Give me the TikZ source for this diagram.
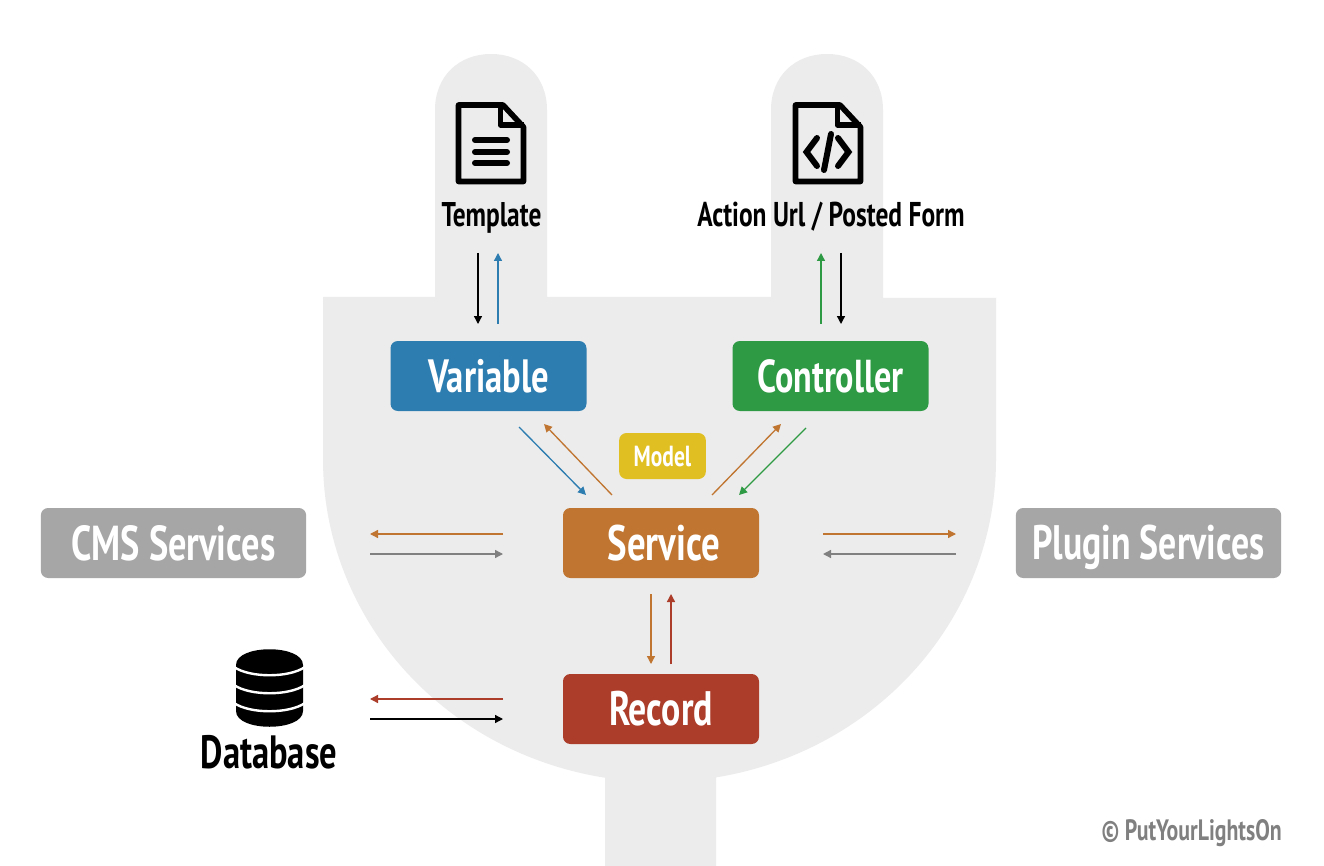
\documentclass[tikz,border=0pt]{standalone}
\usepackage{fontspec}
\setmainfont[FakeStretch=0.74]{PT Sans Bold}
\usetikzlibrary{arrows.meta}
\definecolor{plug}{HTML}{ECECEC}
\definecolor{cblue}{HTML}{2E7DB0}
\definecolor{cgreen}{HTML}{2E9A44}
\definecolor{corange}{HTML}{C07530}
\definecolor{cred}{HTML}{AC3D2A}
\definecolor{cyellow}{HTML}{DFBF22}
\definecolor{cgray}{HTML}{A6A6A6}
\definecolor{cline}{HTML}{808080}
\definecolor{cmark}{HTML}{808080}
\tikzset{
  x=0.75pt,y=-0.75pt,
  fs/.style={font=\fontsize{#1}{#1}\selectfont,text height={0.7*#1pt},text depth=0pt},
  box/.style={rounded corners=5.5pt,inner sep=0pt,minimum height=52.5pt,minimum width=147pt,text=white,fs=35},
  label/.style={inner sep=0pt,text=black},
  flow/.style={line width=1pt,-{Triangle[length=6pt,width=6pt]}},
  docicon/.style={line width=4.2pt,line join=round,draw=black},
  docbar/.style={line width=4.5pt,line cap=round,draw=black},
}
\begin{document}
\begin{tikzpicture}
\useasboundingbox (0,0) rectangle (1324,866);
\fill[white] (0,0) rectangle (1324,866);
% plug
\fill[plug] (605,866) -- plot[domain=99.3:180,samples=60] ({659.5+336.5*cos(\x)},{460+322*sin(\x)})
  -- (323,297) -- (435,297) -- (435,110) .. controls (435,76) and (459,54) .. (491,54)
  .. controls (523,54) and (547,76) .. (547,110) -- (547,297) -- (771,297) -- (771,110)
  .. controls (771,76) and (795,54) .. (827,54) .. controls (859,54) and (883,76) .. (883,110)
  -- (883,298) -- (996,298) -- plot[domain=0:80.3,samples=60] ({659.5+336.5*cos(\x)},{460+322*sin(\x)})
  -- (716,866) -- cycle;
% boxes
\node[box,fill=cblue] (var) at (488.5,376) {Variable};
\node[box,fill=cgreen,fs=34.6] (ctl) at (830.5,376) {Controller};
\node[box,fill=corange,fs=37.3] (svc) at (661,543) {\hspace*{4.5pt}Service};
\node[box,fill=cred,fs=36.3] (rec) at (661,709) {Record};
\node[box,fill=cyellow,minimum width=65pt,minimum height=34.5pt,fs=21.8] (mdl) at (662.5,456) {Model};
\node[box,fill=cgray,minimum width=199pt,fs=36.8] (cms) at (173.5,543) {CMS Services};
\node[box,fill=cgray,minimum width=199pt,fs=36.3] (plg) at (1148.5,543) {Plugin Services};
% labels
\node[label,fs=25.7] (tpl) at (491.5,214.5) {Template};
\node[label,fs=25.8] (act) at (831,214.5) {Action Url / Posted Form};
\node[label,fs=35] (db) at (269,752.5) {Database};
\node[label,text=cmark,fs=22.1] (copy) at (1191.5,830) {© PutYourLightsOn};
% template icon
\draw[docicon] (458.5,105) -- (503,105) -- (523.5,127) -- (523.5,181.5) -- (458.5,181.5) -- cycle;
\draw[docicon] (500.5,105) -- (500.5,125) -- (523.5,125);
\draw[docbar] (475,140) -- (507,140);
\draw[docbar] (475,152) -- (507,152);
\draw[docbar] (475,163) -- (507,163);
% code icon
\draw[docicon] (795.5,105) -- (840,105) -- (860.5,127) -- (860.5,181.5) -- (795.5,181.5) -- cycle;
\draw[docicon] (837.5,105) -- (837.5,125) -- (860.5,125);
\draw[docbar,line join=miter] (817,138) -- (806.5,152) -- (817,166);
\draw[docbar] (831,134) -- (824,170);
\draw[docbar,line join=miter] (838,138) -- (848.5,152) -- (838,166);
% database icon
\fill[black] (236,665) .. controls (236,644) and (303,644) .. (303,665) -- (303,711)
  .. controls (303,732) and (236,732) .. (236,711) -- cycle;
\foreach \yy in {667,685,703} {
  \draw[white,line width=1.8pt] (234,\yy) .. controls (250,\yy+11) and (289,\yy+11) .. (305,\yy);
}
% connector end points
\coordinate (a1) at (478,253); \coordinate (a2) at (478,324);
\coordinate (b1) at (498,324); \coordinate (b2) at (498,253);
\coordinate (c1) at (821,324); \coordinate (c2) at (821,253);
\coordinate (d1) at (841,253); \coordinate (d2) at (841,324);
\coordinate (e1) at (519,427); \coordinate (e2) at (586,495);
\coordinate (f1) at (612,495); \coordinate (f2) at (544,424);
\coordinate (g1) at (712,495); \coordinate (g2) at (781,424);
\coordinate (h1) at (806,428); \coordinate (h2) at (739,495);
\coordinate (i1) at (503,534); \coordinate (i2) at (370,534);
\coordinate (j1) at (370,554); \coordinate (j2) at (503,554);
\coordinate (k1) at (823,534); \coordinate (k2) at (956,534);
\coordinate (l1) at (956,554); \coordinate (l2) at (823,554);
\coordinate (m1) at (651,594); \coordinate (m2) at (651,664);
\coordinate (n1) at (671,664); \coordinate (n2) at (671,594);
\coordinate (o1) at (503,699); \coordinate (o2) at (370,699);
\coordinate (p1) at (370,719); \coordinate (p2) at (503,719);
% connectors
\draw[flow,black] (a1) -- (a2);
\draw[flow,cblue] (b1) -- (b2);
\draw[flow,cgreen] (c1) -- (c2);
\draw[flow,black] (d1) -- (d2);
\draw[flow,cblue] (e1) -- (e2);
\draw[flow,corange] (f1) -- (f2);
\draw[flow,corange] (g1) -- (g2);
\draw[flow,cgreen] (h1) -- (h2);
\draw[flow,corange] (i1) -- (i2);
\draw[flow,cline] (j1) -- (j2);
\draw[flow,corange] (k1) -- (k2);
\draw[flow,cline] (l1) -- (l2);
\draw[flow,corange] (m1) -- (m2);
\draw[flow,cred] (n1) -- (n2);
\draw[flow,cred] (o1) -- (o2);
\draw[flow,black] (p1) -- (p2);
\end{tikzpicture}
\end{document}
